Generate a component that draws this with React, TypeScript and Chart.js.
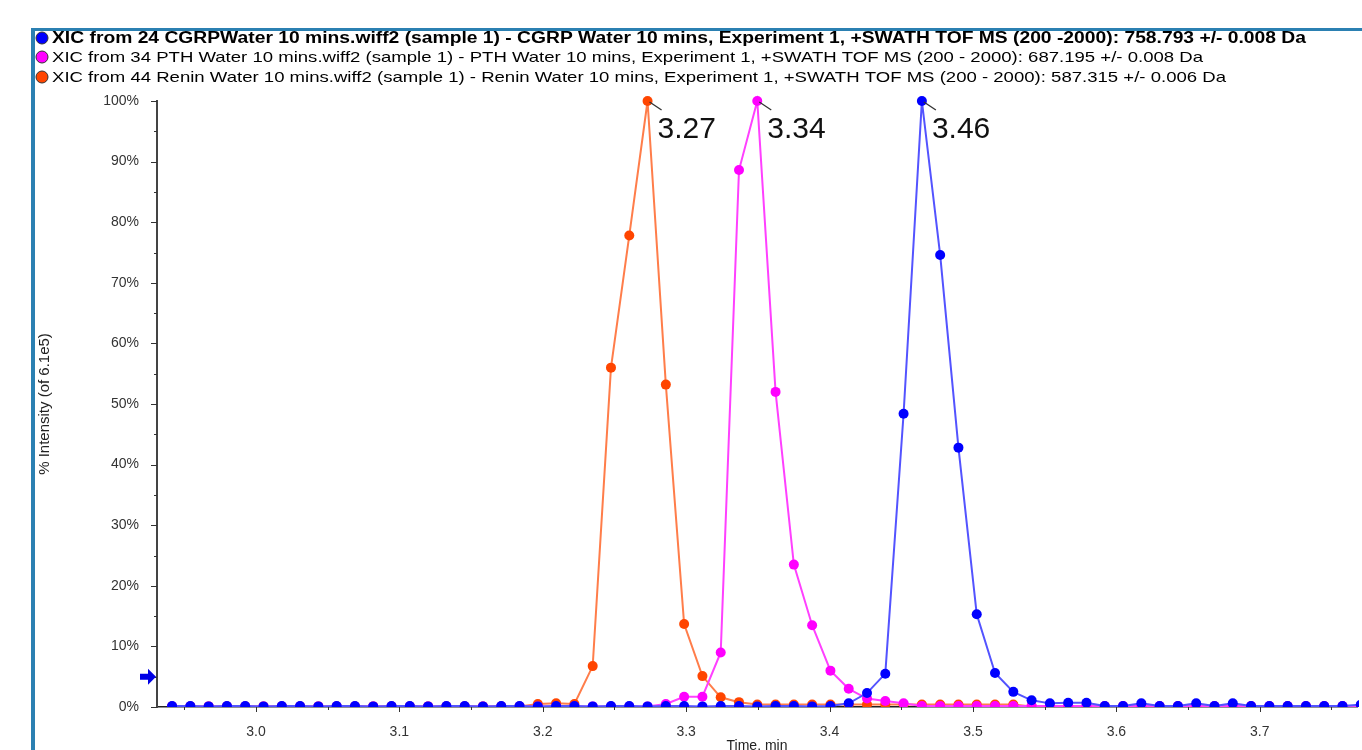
import React, { useEffect, useRef } from 'react';
import { Chart, registerables } from 'chart.js';

Chart.register(...registerables);

// Sampling grid (retention time, min) shared by the three XIC traces
const T_START = 2.9415;
const T_STEP = 0.012753;
const TIMES: number[] = Array.from({ length: 66 }, (_, i) => T_START + i * T_STEP);

const SERIES_LABELS = [
  'XIC from 24 CGRPWater 10 mins.wiff2 (sample 1) - CGRP Water 10 mins, Experiment 1, +SWATH TOF MS (200 -2000): 758.793 +/- 0.008 Da',
  'XIC from 34 PTH Water 10 mins.wiff2 (sample 1) - PTH Water 10 mins, Experiment 1, +SWATH TOF MS (200 - 2000): 687.195 +/- 0.008 Da',
  'XIC from 44 Renin Water 10 mins.wiff2 (sample 1) - Renin Water 10 mins, Experiment 1, +SWATH TOF MS (200 - 2000): 587.315 +/- 0.006 Da',
];

// % intensity values (one per sampling time)
const CGRP = [
  0.15, 0.15, 0.1, 0.15, 0.15, 0.1, 0.15, 0.15, 0.1, 0.15,
  0.15, 0.1, 0.15, 0.15, 0.1, 0.15, 0.15, 0.1, 0.15, 0.15,
  0.1, 0.15, 0.15, 0.1, 0.15, 0.15, 0.1, 0.15, 0.15, 0.1,
  0.15, 0.15, 0.1, 0.15, 0.15, 0.1, 0.15, 0.6, 2.3, 5.5,
  48.4, 100, 74.6, 42.8, 15.3, 5.6, 2.5, 1.1, 0.6, 0.7,
  0.7, 0.15, 0.15, 0.6, 0.15, 0.15, 0.6, 0.15, 0.6, 0.15,
  0.15, 0.15, 0.15, 0.15, 0.15, 0.4,
];
const PTH = [
  0.1, 0.1, 0.1, 0.1, 0.1, 0.1, 0.1, 0.1, 0.1, 0.1,
  0.1, 0.1, 0.1, 0.1, 0.1, 0.1, 0.1, 0.1, 0.1, 0.1,
  0.1, 0.1, 0.1, 0.1, 0.1, 0.1, 0.1, 0.5, 1.7, 1.7,
  9.0, 88.6, 100, 52.0, 23.5, 13.5, 6.0, 3.0, 1.4, 1.0,
  0.6, 0.15, 0.15, 0.15, 0.15, 0.15, 0.15, 0.15, 0.15, 0.15,
  0.15, 0.15, 0.15, 0.15, 0.15, 0.15, 0.15, 0.15, 0.15, 0.15,
  0.15, 0.15, 0.15, 0.15, 0.15, 0.15,
];
const RENIN = [
  0.1, 0.1, 0.1, 0.1, 0.1, 0.1, 0.1, 0.1, 0.1, 0.1,
  0.1, 0.1, 0.1, 0.1, 0.1, 0.1, 0.1, 0.1, 0.1, 0.1,
  0.5, 0.6, 0.5, 6.75, 56.0, 77.8, 100, 53.2, 13.7, 5.1,
  1.6, 0.8, 0.4, 0.4, 0.4, 0.4, 0.4, 0.4, 0.4, 0.4,
  0.4, 0.4, 0.4, 0.4, 0.4, 0.4, 0.4, 0.1, 0.1, 0.1,
  0.1, 0.1, 0.1, 0.1, 0.1, 0.1, 0.1, 0.1, 0.1, 0.1,
  0.1, 0.1, 0.1, 0.1, 0.1, 0.1,
];

const PEAK_LABELS = ['3.46', '3.34', '3.27'];
const ARROW_LEVEL = 5;
const X_MIN = 2.931;
const X_MAX = 3.7678;
const Y_TITLE = '% Intensity (of 6.1e5)';
const X_TITLE = 'Time, min';

const LINE_COLORS = ['#5353ff', '#ff40ff', '#ff7d4a'];
const POINT_COLORS = ['#0000ff', '#ff00ff', '#ff4500'];
const LEGEND_WIDTHS = [1254, 1151, 1174];
const FONT = '"Liberation Sans", Arial, sans-serif';

const decorPlugin = {
  id: 'decor',
  beforeDraw(chart: any) {
    const { ctx, width, height } = chart;
    ctx.save();
    ctx.fillStyle = '#ffffff';
    ctx.fillRect(0, 0, width, height);
    ctx.restore();
  },
  afterDraw(chart: any) {
    const { ctx, chartArea } = chart;
    const xs = chart.scales.x;
    const ys = chart.scales.y;
    ctx.save();

    // tick marks
    ctx.strokeStyle = '#333333';
    ctx.lineWidth = 1;
    for (let v = 0; v <= 100; v += 5) {
      const y = Math.round(ys.getPixelForValue(v)) + 0.5;
      const len = v % 10 === 0 ? 6 : 3;
      ctx.beginPath();
      ctx.moveTo(chartArea.left - len, y);
      ctx.lineTo(chartArea.left, y);
      ctx.stroke();
    }
    for (let k = 59; k * 0.05 <= X_MAX; k++) {
      const v = k * 0.05;
      if (v < X_MIN) continue;
      const x = Math.round(xs.getPixelForValue(v)) + 0.5;
      const len = k % 2 === 0 ? 5 : 3;
      ctx.beginPath();
      ctx.moveTo(x, chartArea.bottom);
      ctx.lineTo(x, chartArea.bottom + len);
      ctx.stroke();
    }

    // arrow marker on y axis
    const ay = ys.getPixelForValue(ARROW_LEVEL);
    ctx.fillStyle = '#0000e6';
    ctx.beginPath();
    ctx.moveTo(140, ay - 3);
    ctx.lineTo(148, ay - 3);
    ctx.lineTo(148, ay - 8);
    ctx.lineTo(156, ay);
    ctx.lineTo(148, ay + 8);
    ctx.lineTo(148, ay + 3);
    ctx.lineTo(140, ay + 3);
    ctx.closePath();
    ctx.fill();

    // peak annotations
    chart.data.datasets.forEach((ds: any, d: number) => {
      const vals = ds.data.map((p: any) => p.y);
      const m = vals.indexOf(Math.max(...vals));
      const el = chart.getDatasetMeta(d).data[m];
      if (!el) return;
      ctx.strokeStyle = '#333333';
      ctx.lineWidth = 1.3;
      ctx.beginPath();
      ctx.moveTo(el.x + 2, el.y + 1);
      ctx.lineTo(el.x + 14, el.y + 9);
      ctx.stroke();
      ctx.fillStyle = '#111111';
      ctx.font = `30px ${FONT}`;
      ctx.textAlign = 'left';
      ctx.textBaseline = 'alphabetic';
      ctx.fillText(PEAK_LABELS[d], el.x + 10, el.y + 37);
    });

    // legend
    const rows = [38, 57, 77];
    chart.data.datasets.forEach((ds: any, d: number) => {
      const y = rows[d];
      ctx.beginPath();
      ctx.arc(42, y, 6, 0, Math.PI * 2);
      ctx.fillStyle = POINT_COLORS[d];
      ctx.fill();
      ctx.lineWidth = 1;
      ctx.strokeStyle = '#333333';
      ctx.stroke();
      ctx.fillStyle = '#000000';
      ctx.font = d === 0 ? `bold 16px ${FONT}` : `15px ${FONT}`;
      ctx.textAlign = 'left';
      ctx.textBaseline = 'middle';
      const w = ctx.measureText(ds.label).width;
      const sx = LEGEND_WIDTHS[d] / w;
      ctx.save();
      ctx.translate(52, y + 1);
      ctx.scale(sx, 1);
      ctx.fillText(ds.label, 0, 0);
      ctx.restore();
    });

    // frame
    ctx.fillStyle = '#2b80b2';
    ctx.fillRect(31, 28, chart.width - 31, 3);
    ctx.fillRect(31, 28, 4, chart.height - 28);

    ctx.restore();
  },
};

export default function App() {
  const canvasRef = useRef<HTMLCanvasElement | null>(null);

  useEffect(() => {
    document.body.style.margin = '0';
    const canvas = canvasRef.current;
    if (!canvas) return;
    const series = [CGRP, PTH, RENIN];
    const chart = new Chart(canvas, {
      type: 'line',
      data: {
        datasets: series.map((vals, d) => ({
          label: SERIES_LABELS[d],
          data: TIMES.map((t, i) => ({ x: t, y: vals[i] })),
          borderColor: LINE_COLORS[d],
          borderWidth: 2,
          backgroundColor: POINT_COLORS[d],
          pointBackgroundColor: POINT_COLORS[d],
          pointBorderWidth: 0,
          pointRadius: 5,
          pointHoverRadius: 5,
          tension: 0,
          fill: false,
          clip: { left: 1, top: false, right: 2, bottom: 0 } as any,
        })),
      },
      options: {
        animation: false,
        responsive: false,
        devicePixelRatio: 1,
        layout: { padding: { top: 101, left: 0, right: 0, bottom: 0 } },
        plugins: {
          legend: { display: false },
          tooltip: { enabled: false },
        },
        scales: {
          x: {
            type: 'linear',
            min: X_MIN,
            max: X_MAX,
            grid: { display: false },
            border: { display: true, color: '#222222', width: 1.5 },
            ticks: {
              stepSize: 0.1,
              includeBounds: false,
              padding: 9,
              color: '#333333',
              font: { family: FONT, size: 14 },
              callback: (v: any) => Number(v).toFixed(1),
            },
            title: {
              display: true,
              text: X_TITLE,
              color: '#222222',
              font: { family: FONT, size: 14 },
              padding: { top: 0, bottom: -5 },
            },
            afterFit: (scale: any) => {
              scale.height = 43;
            },
          },
          y: {
            type: 'linear',
            min: 0,
            max: 100,
            grid: { display: false },
            border: { display: true, color: '#444444', width: 2 },
            ticks: {
              stepSize: 10,
              padding: 10,
              color: '#333333',
              font: { family: FONT, size: 14 },
              callback: (v: any) => `${v}%`,
            },
            title: {
              display: true,
              text: Y_TITLE,
              color: '#222222',
              font: { family: FONT, size: 15 },
              padding: { top: 36, bottom: 0 },
            },
            afterFit: (scale: any) => {
              scale.width = 157;
            },
          },
        },
      },
      plugins: [decorPlugin],
    });
    return () => chart.destroy();
  }, []);

  return (
    <div style={{ width: 1362, height: 750, position: 'relative', background: '#fff' }}>
      <canvas ref={canvasRef} width={1362} height={750} style={{ display: 'block' }} />
    </div>
  );
}
